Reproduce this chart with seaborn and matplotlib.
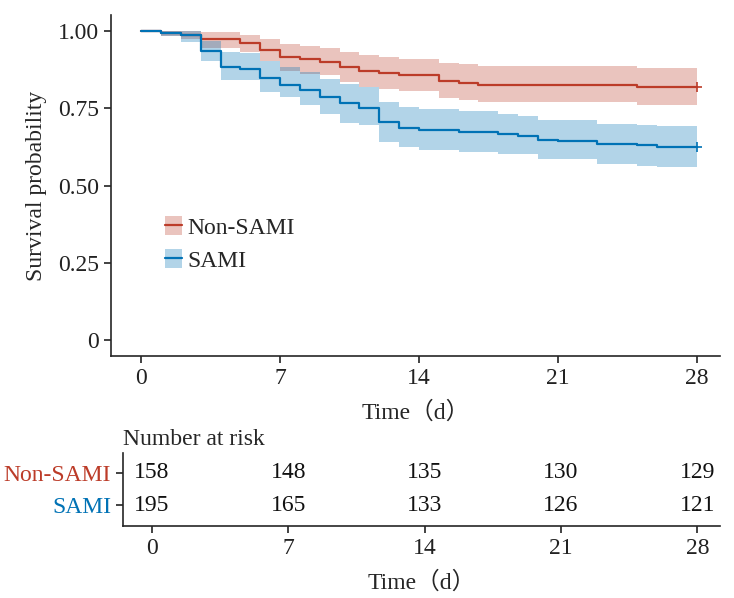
import numpy as np
import pandas as pd
import matplotlib
matplotlib.use("Agg")
import matplotlib.pyplot as plt
import seaborn as sns
from matplotlib.patches import Patch
from matplotlib.lines import Line2D
from matplotlib.legend_handler import HandlerTuple

# Kaplan-Meier steps
red_time = [0, 1, 2, 3, 5, 6, 7, 8, 9, 10, 11, 12, 13, 15, 16, 17, 25, 28]
red_surv = [1.0, 0.994, 0.987, 0.973, 0.960, 0.940, 0.915, 0.908, 0.901, 0.883,
            0.870, 0.864, 0.858, 0.838, 0.832, 0.826, 0.820, 0.820]
red_upper = [1.0, 1.0, 1.0, 0.997, 0.988, 0.975, 0.959, 0.951, 0.945, 0.932,
             0.924, 0.917, 0.910, 0.898, 0.892, 0.886, 0.880, 0.880]
red_lower = [1.0, 0.984, 0.975, 0.945, 0.931, 0.902, 0.870, 0.862, 0.857, 0.835,
             0.819, 0.814, 0.806, 0.782, 0.776, 0.769, 0.761, 0.761]

blue_time = [0, 1, 2, 3, 4, 5, 6, 7, 8, 9, 10, 11, 12, 13, 14, 16, 18, 19, 20, 21, 23, 25, 26, 28]
blue_surv = [1.0, 0.995, 0.987, 0.936, 0.884, 0.877, 0.847, 0.827, 0.809, 0.787, 0.768, 0.751,
             0.706, 0.686, 0.680, 0.674, 0.668, 0.662, 0.648, 0.643, 0.634, 0.630, 0.626, 0.626]
blue_upper = [1.0, 1.0, 1.0, 0.969, 0.932, 0.930, 0.902, 0.884, 0.867, 0.846, 0.830, 0.819,
              0.771, 0.755, 0.747, 0.742, 0.733, 0.725, 0.712, 0.712, 0.701, 0.696, 0.692, 0.692]
blue_lower = [1.0, 0.985, 0.965, 0.902, 0.841, 0.841, 0.803, 0.787, 0.760, 0.733, 0.703, 0.696,
              0.642, 0.624, 0.615, 0.610, 0.602, 0.602, 0.585, 0.585, 0.570, 0.564, 0.559, 0.559]

groups = ["Non-SAMI", "SAMI"]
risk_times = [0, 7, 14, 21, 28]
nonsami_risk = [158, 148, 135, 130, 129]
sami_risk = [195, 165, 133, 126, 121]

red = "#BC3C29"
blue = "#0072B5"
palette = {"Non-SAMI": red, "SAMI": blue}
fs = 17

sns.set_style("ticks")
plt.rcParams["font.family"] = ["Liberation Serif", "Noto Sans CJK SC"]
plt.rcParams["axes.linewidth"] = 1.2
plt.rcParams["xtick.major.width"] = 1.2
plt.rcParams["ytick.major.width"] = 1.2
plt.rcParams["xtick.major.size"] = 5
plt.rcParams["ytick.major.size"] = 5
plt.rcParams["xtick.color"] = "#222222"
plt.rcParams["ytick.color"] = "#222222"

df = pd.concat([
    pd.DataFrame({"time": red_time, "surv": red_surv, "group": "Non-SAMI"}),
    pd.DataFrame({"time": blue_time, "surv": blue_surv, "group": "SAMI"}),
])

fig = plt.figure(figsize=(7.34, 5.98), dpi=100)
ax = fig.add_axes([0.1512, 0.405, 0.8298, 0.570])
tab = fig.add_axes([0.1676, 0.1204, 0.8134, 0.1221])

ax.fill_between(red_time, red_lower, red_upper, step="post", color=red, alpha=0.3, lw=0)
ax.fill_between(blue_time, blue_lower, blue_upper, step="post", color=blue, alpha=0.3, lw=0)
sns.lineplot(data=df, x="time", y="surv", hue="group", palette=palette, estimator=None,
             drawstyle="steps-post", linewidth=1.6, legend=False, ax=ax)
ax.plot([red_time[-1]], [red_surv[-1]], marker="+", color=red, ms=7, mew=1.2)
ax.plot([blue_time[-1]], [blue_surv[-1]], marker="+", color=blue, ms=7, mew=1.2)

ax.set_xlim(-1.53, 29.18)
ax.set_ylim(-0.05, 1.052)
ax.set_xticks(risk_times)
ax.set_yticks([0, 0.25, 0.5, 0.75, 1.0])
ax.set_yticklabels(["0", "0.25", "0.50", "0.75", "1.00"])
ax.tick_params(labelsize=fs)
ax.set_xlabel("Time（d）", fontsize=fs, labelpad=9)
ax.set_ylabel("Survival probability", fontsize=fs, labelpad=8)
sns.despine(ax=ax)

handles = [(Patch(facecolor=palette[g], alpha=0.3, lw=0), Line2D([], [], color=palette[g], lw=1.6))
           for g in groups]
ax.legend(handles, groups, handler_map={tuple: HandlerTuple(ndivide=1)},
          loc="upper left", bbox_to_anchor=(0.088, 0.41), frameon=False, fontsize=fs,
          handlelength=0.75, handleheight=0.85, handletextpad=0.2, labelspacing=0.45,
          borderpad=0, borderaxespad=0)

# risk table
for yv, counts in zip([1, 0], [nonsami_risk, sami_risk]):
    for t, n in zip(risk_times, counts):
        tab.text(t, yv, str(n), ha="center", va="center", fontsize=fs, color="#111111")
tab.set_xlim(-1.49, 29.17)
tab.set_ylim(-0.63, 1.6)
tab.set_xticks(risk_times)
tab.set_yticks([1, 0])
tab.set_yticklabels(groups)
for lbl, g in zip(tab.get_yticklabels(), groups):
    lbl.set_color(palette[g])
tab.tick_params(labelsize=fs)
tab.set_xlabel("Time（d）", fontsize=fs, labelpad=9)
tab.set_title("Number at risk", fontsize=fs, loc="left", pad=6, x=0.0)
sns.despine(ax=tab)

fig.savefig("out.png", dpi=100)
